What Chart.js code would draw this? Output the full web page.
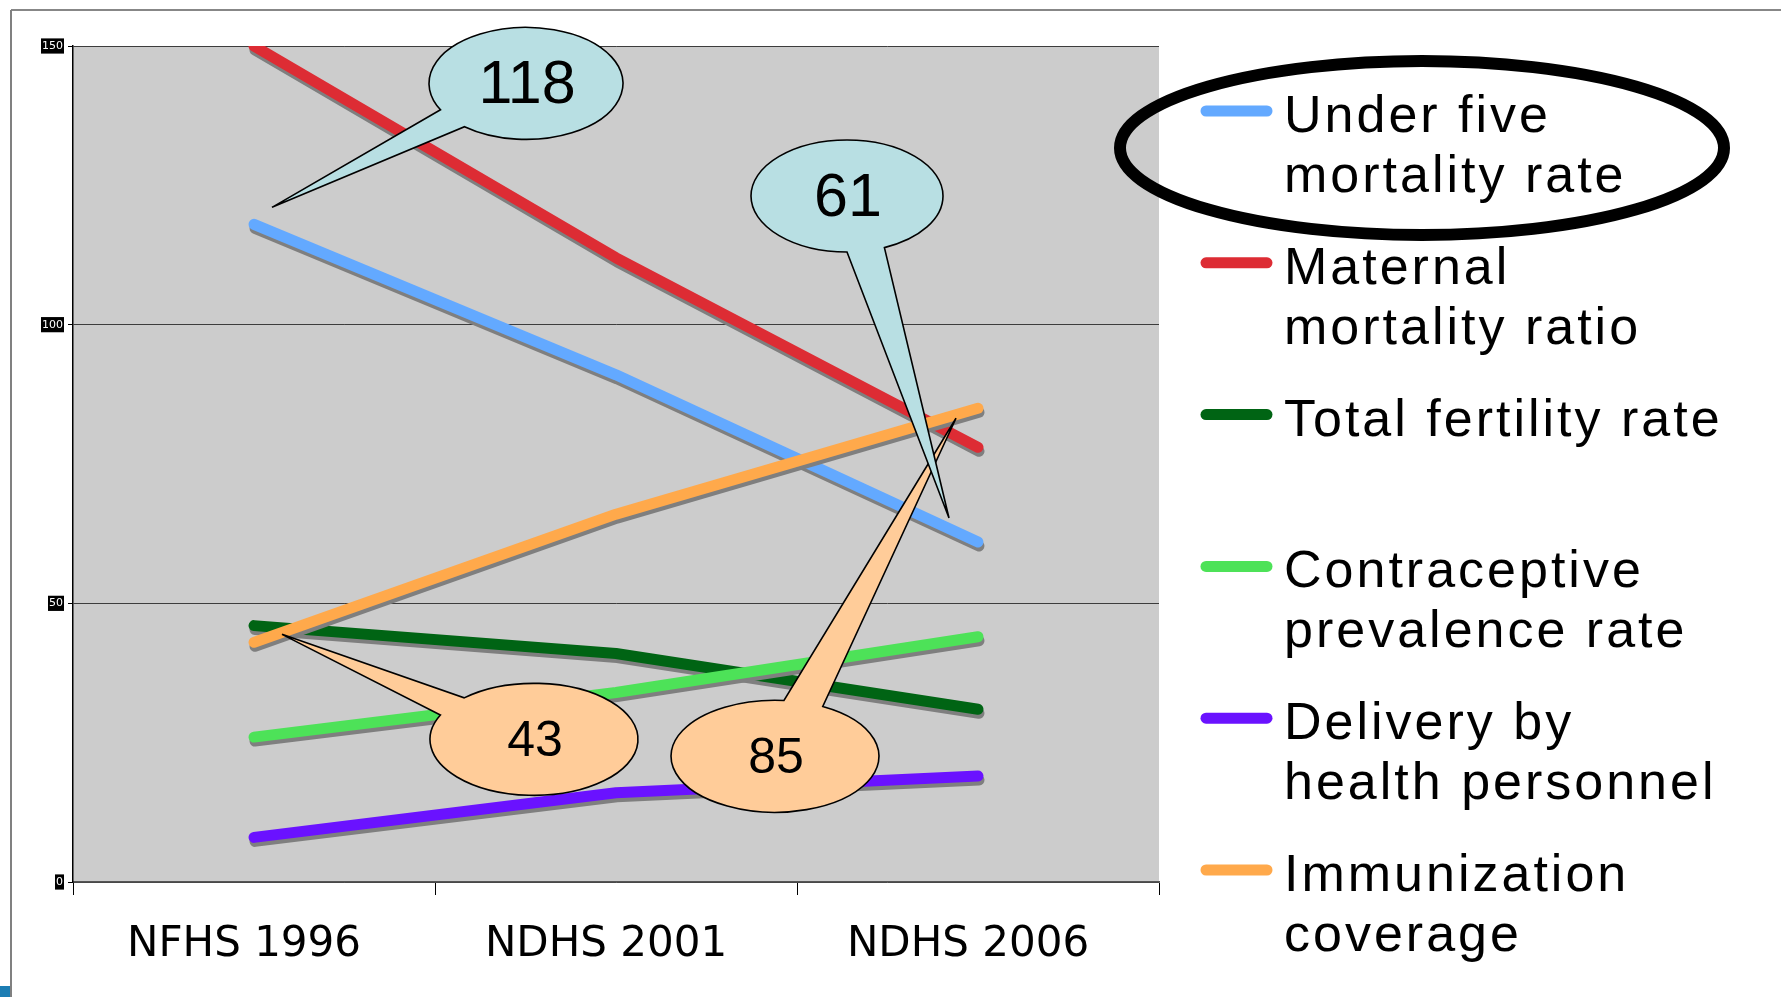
<!doctype html>
<html lang="en">
<head>
<meta charset="utf-8">
<title>Nepal health indicators</title>
<script src="https://cdn.jsdelivr.net/npm/chart.js@4.4.1/dist/chart.umd.min.js"></script>
<style>
  html, body { margin: 0; padding: 0; background: #fff; }
  #wrap { width: 1781px; height: 997px; }
</style>
</head>
<body>
<div id="wrap"><canvas id="myChart" width="1781" height="997"></canvas></div>
<script>
// survey rounds
const categories = ['NFHS 1996', 'NDHS 2001', 'NDHS 2006'];

// series values
const underFive = [118, 91, 61];
const maternal = [150, 112, 78];
const fertility = [46, 41, 31];
const contraceptive = [26, 34, 44];
const delivery = [8, 16, 19];
const immunization = [43, 66, 85];

const seriesNames = [
  ['Under five', 'mortality rate'],
  ['Maternal', 'mortality ratio'],
  ['Total fertility rate'],
  ['Contraceptive', 'prevalence rate'],
  ['Delivery by', 'health personnel'],
  ['Immunization', 'coverage']
];
const seriesColors = ['#63a9ff', '#dd2c34', '#006414', '#4de258', '#6a12ff', '#ffa94b'];
const yTicks = [0, 50, 100, 150];

const allSeries = [underFive, maternal, fertility, contraceptive, delivery, immunization];

// speech bubbles: which point they point at, offsets from that point
const callouts = [
  { series: 5, index: 0, fill: '#ffcc99', size: 50, tip: [28, -8], centre: [280, 97], rx: 104, ry: 56, base: [[-92, -24], [-69, -41]] },
  { series: 5, index: 2, fill: '#ffcc99', size: 50, tip: [-22, 10], centre: [-203, 348], rx: 104, ry: 56, base: [[9, -56], [48, -50]] },
  { series: 0, index: 0, fill: '#b8dfe3', size: 61, tip: [18, -17], centre: [272, -141], rx: 97, ry: 56, base: [[-84, 26], [-61, 43]] },
  { series: 0, index: 2, fill: '#b8dfe3', size: 61, tip: [-29, -24], centre: [-131, -346], rx: 96, ry: 56, base: [[0, 56], [37, 51]] }
];

const backdrop = {
  id: 'backdrop',
  beforeDraw(chart) {
    const ctx = chart.ctx, a = chart.chartArea;
    ctx.save();
    ctx.fillStyle = '#fff';
    ctx.fillRect(0, 0, chart.width, chart.height);
    ctx.fillStyle = '#cccccc';
    ctx.fillRect(a.left, a.top, a.right - a.left, a.bottom - a.top);
    // slide frame
    ctx.strokeStyle = '#111';
    ctx.lineWidth = 1.2;
    ctx.beginPath(); ctx.moveTo(11, 10); ctx.lineTo(chart.width, 10); ctx.stroke();
    ctx.strokeStyle = '#808080';
    ctx.lineWidth = 2;
    ctx.beginPath(); ctx.moveTo(11, 10); ctx.lineTo(11, chart.height); ctx.stroke();
    ctx.fillStyle = '#1c7db3';
    ctx.fillRect(0, 986, 10, 11);
    ctx.restore();
  }
};

const shadow = {
  id: 'shadow',
  beforeDatasetDraw(chart) {
    const ctx = chart.ctx;
    ctx.save();
    ctx.shadowColor = '#7f7f7f';
    ctx.shadowOffsetX = 1;
    ctx.shadowOffsetY = 4;
    ctx.shadowBlur = 0;
  },
  afterDatasetDraw(chart) {
    chart.ctx.restore();
  }
};

function drawCallout(ctx, c, px, py, text) {
  const cx = px + c.centre[0], cy = py + c.centre[1];
  const tx = px + c.tip[0], ty = py + c.tip[1];
  let a = Math.atan2(c.base[0][1] / c.ry, c.base[0][0] / c.rx);
  let b = Math.atan2(c.base[1][1] / c.ry, c.base[1][0] / c.rx);
  const gap = (b - a + 4 * Math.PI) % (2 * Math.PI);
  if (gap > Math.PI) { const t = a; a = b; b = t; }
  ctx.beginPath();
  ctx.ellipse(cx, cy, c.rx, c.ry, 0, b, a, false);
  ctx.lineTo(tx, ty);
  ctx.closePath();
  ctx.fillStyle = c.fill;
  ctx.fill();
  ctx.strokeStyle = '#000';
  ctx.lineWidth = 1.6;
  ctx.lineJoin = 'miter';
  ctx.stroke();
  ctx.fillStyle = '#000';
  ctx.font = c.size + 'px "Liberation Sans", Arial, sans-serif';
  ctx.textAlign = 'center';
  ctx.textBaseline = 'middle';
  ctx.fillText(text, cx + 1, cy + 3);
}

const extras = {
  id: 'extras',
  afterDraw(chart) {
    const ctx = chart.ctx, a = chart.chartArea;
    const xs = chart.scales.x, ys = chart.scales.y;
    ctx.save();
    callouts.forEach(c => {
      const v = allSeries[c.series][c.index];
      drawCallout(ctx, c, xs.getPixelForValue(c.index), ys.getPixelForValue(v), String(v));
    });

    // legend
    const x0 = a.right + 42;
    const rowGap = 151.8;
    ctx.font = '52px "Liberation Sans", Arial, sans-serif';
    ctx.letterSpacing = '3px';
    ctx.textAlign = 'left';
    ctx.textBaseline = 'alphabetic';
    chart.data.datasets.forEach((ds, i) => {
      const y = 111 + i * rowGap;
      ctx.strokeStyle = ds.borderColor;
      ctx.lineWidth = 11;
      ctx.lineCap = 'round';
      ctx.beginPath(); ctx.moveTo(x0 + 5, y); ctx.lineTo(x0 + 66, y); ctx.stroke();
      ctx.fillStyle = '#000';
      ds.label.split('\n').forEach((line, j) => {
        ctx.fillText(line, x0 + 83, y + 21 + j * 60);
      });
    });
    ctx.letterSpacing = '0px';

    // ring around the first legend entry
    ctx.strokeStyle = '#000';
    ctx.lineWidth = 12;
    ctx.beginPath();
    ctx.ellipse(x0 + 221, 148, 302, 87, 0, 0, Math.PI * 2);
    ctx.stroke();
    ctx.restore();
  }
};

const datasets = allSeries.map((vals, i) => ({
  label: seriesNames[i].join('\n'),
  data: vals,
  borderColor: seriesColors[i],
  backgroundColor: seriesColors[i],
  borderWidth: 11,
  borderCapStyle: 'round',
  borderJoinStyle: 'round',
  pointRadius: 0,
  tension: 0,
  fill: false,
  clip: 0,
  order: allSeries.length - i
}));

new Chart(document.getElementById('myChart'), {
  type: 'line',
  data: { labels: categories, datasets: datasets },
  options: {
    responsive: false,
    animation: false,
    layout: { padding: { top: 46, right: 622, left: 0, bottom: 0 } },
    plugins: { legend: { display: false }, tooltip: { enabled: false } },
    scales: {
      x: {
        offset: true,
        grid: { offset: true, drawOnChartArea: false, tickLength: 13, tickColor: '#000', tickWidth: 1 },
        border: { color: '#555', width: 1.5 },
        ticks: { color: '#000', padding: 25, labelOffset: -10, font: { family: '"DejaVu Sans", sans-serif', size: 42 } },
        afterFit(s) { s.height = 115; }
      },
      y: {
        min: 0,
        max: 150,
        afterBuildTicks(s) { s.ticks = yTicks.map(v => ({ value: v })); },
        grid: { color: '#3c3c3c', lineWidth: 1, tickLength: 5, tickColor: '#000' },
        border: { color: '#000', width: 1.5 },
        ticks: {
          color: '#fff',
          padding: 5,
          showLabelBackdrop: true,
          backdropColor: '#000',
          backdropPadding: 1,
          font: { family: '"DejaVu Sans", sans-serif', size: 11 }
        },
        afterFit(s) { s.width = 73; }
      }
    }
  },
  plugins: [backdrop, shadow, extras]
});
</script>
</body>
</html>
